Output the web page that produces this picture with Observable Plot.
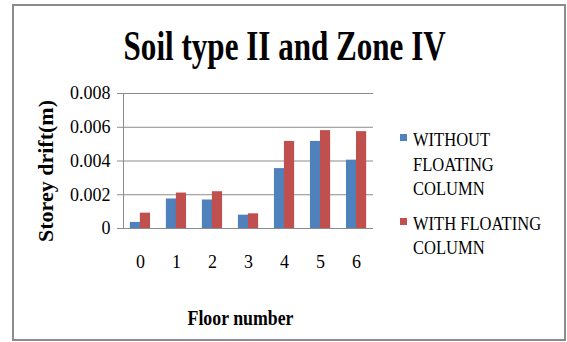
<!DOCTYPE html>
<html>
<head>
<meta charset="utf-8">
<script src="https://cdn.jsdelivr.net/npm/d3@7"></script>
<script src="https://cdn.jsdelivr.net/npm/@observablehq/plot@0.6"></script>
<style>
  html, body { margin: 0; padding: 0; background: #fff; }
  #wrap { position: relative; width: 567px; height: 342px; overflow: hidden; font-family: "Liberation Serif", "Times New Roman", serif; }
  #border { position: absolute; left: 12px; top: 4px; width: 554px; height: 337px; box-sizing: border-box; border: 2px solid #8c8c8c; pointer-events: none; }
  #plot { position: absolute; left: 0; top: 0; }
  #title { position: absolute; left: 0; width: 570px; top: 19px; text-align: center; font-weight: bold; font-size: 42px; line-height: 54px; white-space: nowrap; }
  #title span { display: inline-block; transform: scaleX(0.74); }
  #legend { position: absolute; left: 400px; top: 128px; }
  .item { position: relative; margin-bottom: 10px; }
  .swatch { position: absolute; left: 0; top: 6px; width: 7px; height: 7px; }
  .label { margin-left: 13px; font-size: 19px; line-height: 24.5px; transform: scaleX(0.87); transform-origin: left center; white-space: nowrap; }
</style>
</head>
<body>
<div id="wrap">
  <div id="plot"></div>
  <div id="title"><span>Soil type II and Zone IV</span></div>
  <div id="legend"></div>
  <div id="border"></div>
</div>
<script>
// Storey drift per floor, with and without a floating column
const floors = ["0", "1", "2", "3", "4", "5", "6"];
const withoutFloating = [0.00036, 0.00175, 0.00169, 0.00079, 0.00355, 0.00516, 0.00405];
const withFloating = [0.00091, 0.0021, 0.00218, 0.00087, 0.00516, 0.0058, 0.00574];
const yTicks = [0, 0.002, 0.004, 0.006, 0.008];
const xTitle = "Floor number";
const yTitle = "Storey drift(m)";
const seriesNames = ["WITHOUT\nFLOATING\nCOLUMN", "WITH FLOATING\nCOLUMN"];
const seriesColors = ["#4F81BD", "#C0504D"];

const rowsWithout = floors.map((f, i) => ({floor: f, value: withoutFloating[i]}));
const rowsWith = floors.map((f, i) => ({floor: f, value: withFloating[i]}));

const grid = "#8c8c8c";

const chart = Plot.plot({
  width: 567,
  height: 342,
  marginLeft: 123,
  marginRight: 194,
  marginTop: 93,
  marginBottom: 114,
  style: {fontFamily: "Liberation Serif, Times New Roman, serif", fontSize: "18px", color: "#000", background: "transparent"},
  x: {domain: floors, paddingInner: 0.44, paddingOuter: 0.19, round: false},
  y: {domain: [0, 0.008]},
  marks: [
    Plot.gridY(yTicks, {stroke: grid, strokeOpacity: 1}),
    Plot.axisY(yTicks, {
      tickSize: 6, tickPadding: 7, stroke: grid, fill: "#000", fontSize: 18,
      tickFormat: d => d === 0 ? "0" : d.toFixed(3), label: null
    }),
    Plot.axisX({tickSize: 0, tickPadding: 27, fill: "#000", fontSize: 18, label: null}),
    Plot.barY(rowsWithout, {x: "floor", y: "value", fill: seriesColors[0], insetRight: 10}),
    Plot.barY(rowsWith, {x: "floor", y: "value", fill: seriesColors[1], insetLeft: 10}),
    Plot.ruleY([0], {stroke: grid}),
    Plot.frame({anchor: "left", stroke: grid}),
    Plot.text([yTitle], {
      frameAnchor: "left", textAnchor: "middle", rotate: -90, dx: -78, dy: 10,
      fontWeight: "bold", fontSize: 22, fill: "#000"
    }),
    Plot.text([xTitle], {
      frameAnchor: "bottom", dx: -8, dy: 96,
      fontWeight: "bold", fontSize: 22, fill: "#000"
    })
  ]
});
// the axis title is set a little narrower, like the rest of the lettering
d3.select(chart).selectAll("text")
  .filter(function() { return this.textContent === xTitle; })
  .attr("textLength", 106).attr("lengthAdjust", "spacingAndGlyphs");
document.getElementById("plot").appendChild(chart);

// Legend
const legend = document.getElementById("legend");
seriesNames.forEach((name, i) => {
  const item = document.createElement("div");
  item.className = "item";
  const sw = document.createElement("div");
  sw.className = "swatch";
  sw.style.background = seriesColors[i];
  item.appendChild(sw);
  name.split("\n").forEach(line => {
    const l = document.createElement("div");
    l.className = "label";
    l.textContent = line;
    item.appendChild(l);
  });
  legend.appendChild(item);
});
</script>
</body>
</html>
